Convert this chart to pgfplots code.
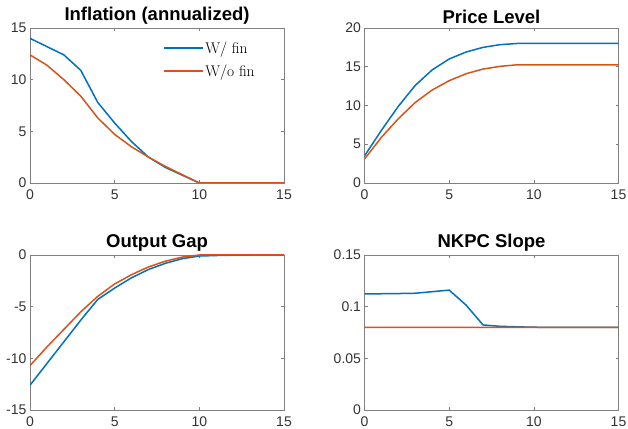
\documentclass[border=0pt]{standalone}
\usepackage{fontspec}
\setsansfont{Liberation Sans}
\usepackage{pgfplots}
\pgfplotsset{compat=1.18}
\definecolor{mblue}{rgb}{0,0.447,0.741}
\definecolor{morange}{rgb}{0.85,0.325,0.098}
\pgfplotsset{
  mat/.style={
    scale only axis=true, width=254pt, height=155pt,
    anchor=south west,
    xmin=0, xmax=15, xtick={0,5,10,15},
    axis line style={black!50, line width=0.6pt},
    tick style={black!50, line width=0.6pt},
    major tick length=3pt,
    tick align=inside,
    xtick pos=both, ytick pos=both,
    /pgf/number format/assume math mode=true,
    tick label style={font=\sffamily\fontsize{14}{16}\selectfont, text=black!80},
    xticklabel style={yshift=-3pt},
    title style={font=\sffamily\bfseries\fontsize{18.5}{21}\selectfont, yshift=-5.5pt},
    axis background/.style={fill=white},
  },
  blueline/.style={draw=mblue, line width=1.5pt, no markers},
  orangeline/.style={draw=morange, line width=1.5pt, no markers},
}
\begin{document}
\begin{tikzpicture}
\begin{axis}[mat, at={(30pt,245pt)}, ymin=0, ymax=15, ytick={0,5,10,15},
  title={Inflation (annualized)},
  legend style={at={(0.905,0.94)}, anchor=north east, draw=none, fill=none,
    font=\fontsize{15.5}{18}\selectfont, row sep=6pt},
  legend cell align=left,
  legend image code/.code={\draw[#1] (0pt,0pt) -- (39pt,0pt);}]
\addplot[blueline] coordinates {(0,14.0)(1,13.2)(2,12.4)(3,10.9)(4,7.8)(5,5.8)(6,4.0)(7,2.5)(8,1.5)(9,0.75)(10,0)(11,0)(12,0)(13,0)(14,0)(15,0)};
\addlegendentry{W/ fin}
\addplot[orangeline] coordinates {(0,12.4)(1,11.4)(2,10.0)(3,8.4)(4,6.3)(5,4.7)(6,3.5)(7,2.5)(8,1.6)(9,0.8)(10,0)(11,0)(12,0)(13,0)(14,0)(15,0)};
\addlegendentry{W/o fin}
\end{axis}
\begin{axis}[mat, at={(364.5pt,245pt)}, ymin=0, ymax=20, ytick={0,5,10,15,20},
  title={Price Level}]
\addplot[blueline] coordinates {(0,3.5)(1,6.8)(2,9.9)(3,12.6)(4,14.6)(5,16.0)(6,16.9)(7,17.5)(8,17.85)(9,18.0)(10,18.0)(11,18.0)(12,18.0)(13,18.0)(14,18.0)(15,18.0)};
\addplot[orangeline] coordinates {(0,3.1)(1,5.9)(2,8.3)(3,10.4)(4,12.0)(5,13.2)(6,14.1)(7,14.7)(8,15.05)(9,15.25)(10,15.25)(11,15.25)(12,15.25)(13,15.25)(14,15.25)(15,15.25)};
\end{axis}
\begin{axis}[mat, at={(30pt,18pt)}, ymin=-15, ymax=0, ytick={-15,-10,-5,0},
  title={Output Gap}]
\addplot[blueline] coordinates {(0,-12.6)(1,-10.5)(2,-8.4)(3,-6.3)(4,-4.3)(5,-3.2)(6,-2.2)(7,-1.4)(8,-0.8)(9,-0.35)(10,-0.1)(11,-0.05)(12,-0.02)(13,0)(14,0)(15,0)};
\addplot[orangeline] coordinates {(0,-10.7)(1,-8.9)(2,-7.2)(3,-5.5)(4,-4.0)(5,-2.8)(6,-1.9)(7,-1.15)(8,-0.6)(9,-0.2)(10,0)(11,0)(12,0)(13,0)(14,0)(15,0)};
\end{axis}
\begin{axis}[mat, at={(364.5pt,18pt)}, ymin=0, ymax=0.15, ytick={0,0.05,0.1,0.15},
  yticklabel style={/pgf/number format/fixed, /pgf/number format/precision=2},
  title={NKPC Slope}]
\addplot[blueline] coordinates {(0,0.1123)(1,0.1125)(2,0.1127)(3,0.113)(4,0.1145)(5,0.116)(6,0.1015)(7,0.0823)(8,0.081)(9,0.0805)(10,0.0801)(11,0.08)(12,0.08)(13,0.08)(14,0.08)(15,0.08)};
\addplot[orangeline] coordinates {(0,0.0800)(1,0.0800)(2,0.0800)(3,0.0800)(4,0.0800)(5,0.0800)(6,0.0800)(7,0.0800)(8,0.0800)(9,0.0800)(10,0.0800)(11,0.0800)(12,0.0800)(13,0.0800)(14,0.0800)(15,0.08001)};
\end{axis}
\pgfresetboundingbox
\useasboundingbox (0pt,0pt) rectangle (628pt,428pt);
\end{tikzpicture}
\end{document}
